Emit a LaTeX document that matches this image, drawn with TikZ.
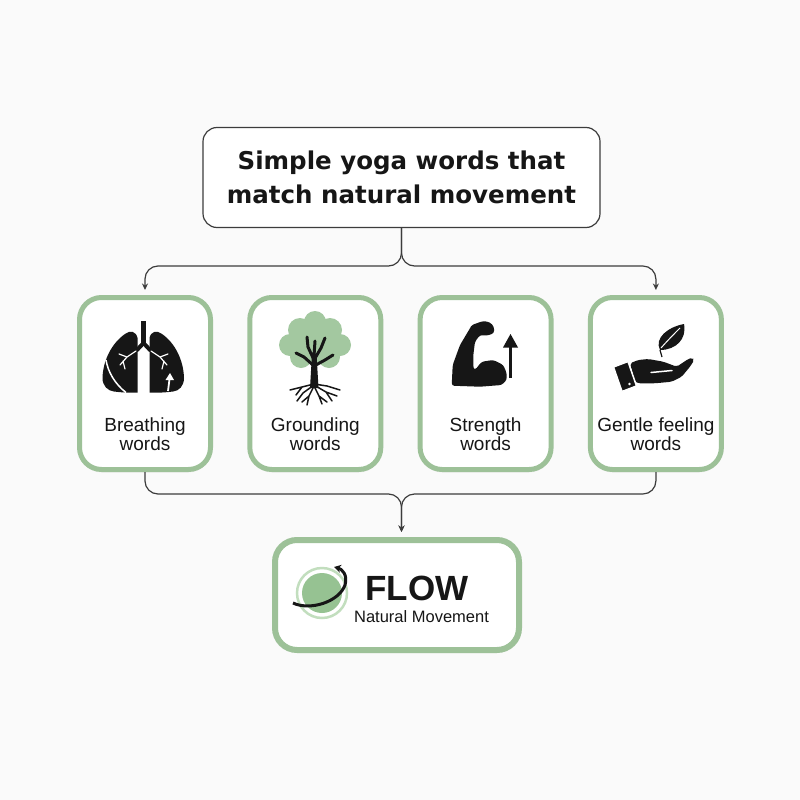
\documentclass[tikz,border=0pt]{standalone}
\usepackage{fontspec}
\setmainfont{Liberation Sans}
\newfontfamily\headfont{DejaVu Sans}
\usetikzlibrary{positioning, arrows.meta, shadows}

\definecolor{sage}{HTML}{9DC198}
\definecolor{leafgreen}{HTML}{A3C8A0}
\definecolor{discgreen}{HTML}{96C292}
\definecolor{ringgreen}{HTML}{C2DEBE}
\definecolor{ink}{HTML}{161616}
\definecolor{wire}{HTML}{3C3C3C}
\definecolor{paper}{HTML}{FAFAFA}

\begin{document}
\begin{tikzpicture}[x=1pt, y=-1pt,
    titlebox/.style = {draw=wire, line width=1.2pt, rounded corners=14pt, fill=white,
        minimum width=397pt, minimum height=100pt, align=center, text=ink,
        font=\headfont\bfseries\fontsize{24.5}{34}\selectfont},
    card/.style = {draw=sage, line width=5pt, rounded corners=22pt, fill=white,
        minimum width=131pt, minimum height=172pt,
        drop shadow={shadow xshift=0pt, shadow yshift=-3pt, opacity=.08}},
    flowbox/.style = {card, line width=6pt, minimum width=244pt, minimum height=110pt},
    lbl/.style = {align=center, inner sep=0pt, text depth=0pt, text=ink,
        font=\fontsize{19}{19.5}\selectfont},
    conn/.style = {draw=wire, line width=1.2pt, rounded corners=13pt},
    pointy/.style = {-{Stealth[length=6.5pt, width=6pt]}}]

    \fill[paper] (0,0) rectangle (800,800);
    \useasboundingbox (0,0) rectangle (800,800);

    \node[titlebox] (title) at (401.5,177.5) {Simple yoga words that\\match natural movement};

    \node[card] (breath) at (145,383.5) {};
    \node[card, right=34.3pt of breath] (ground) {};
    \node[card, right=34.3pt of ground] (strength) {};
    \node[card, right=34.3pt of strength] (gentle) {};

    \node[lbl, above=21pt of breath.south] {Breathing\\words};
    \node[lbl, above=21pt of ground.south] {Grounding\\words};
    \node[lbl, above=21pt of strength.south] {Strength\\words};
    \node[lbl, above=21pt of gentle.south] {Gentle feeling\\words};

    \node[flowbox] (flow) at (397,595) {};
    \node[anchor=base, text=ink, font=\bfseries\fontsize{35}{35}\selectfont] (flowword) at (417,600) {FLOW};
    \node[anchor=base, text=ink, font=\fontsize{16.5}{17}\selectfont] (flowsub) at (421.5,622) {Natural Movement};

    \coordinate (split) at (401.5,266);
    \coordinate (merge) at (401.5,494);
    \coordinate (drop) at (401.5,532);

    \draw[conn, pointy] (title.south) -- (split) -| ([yshift=5pt]breath.north);
    \draw[conn, pointy] (title.south) -- (split) -| ([yshift=5pt]gentle.north);
    \draw[conn, pointy] (breath.south) |- (merge) -- (drop);
    \draw[conn, pointy] (gentle.south) |- (merge) -- (drop);

    % lungs
    \fill[ink] (141,321) rectangle (146,346);
    \draw[ink, line width=4pt, line cap=round] (143.5,343) -- (137,350) (143.5,343) -- (150,350);
    \fill[ink] (137.5,338) .. controls (136,331) and (130,330) .. (125,334)
        .. controls (112,343) and (103,360) .. (102.5,378) .. controls (102.5,386) and (108,391) .. (114,391.5)
        .. controls (122,392.5) and (130,393) .. (137.5,392.5) -- cycle;
    \fill[ink] (149.5,338) .. controls (151,331) and (157,330) .. (162,334)
        .. controls (175,343) and (183.5,360) .. (184,378) .. controls (184,386) and (179,391) .. (173,391.5)
        .. controls (165,392.5) and (157,393) .. (149.5,392.5) -- cycle;
    \draw[white, line width=1.5pt] (106,360) .. controls (108,372) and (115,384) .. (126,392.5);
    \draw[white, line width=1.2pt, line cap=round] (136,351) -- (127,357) -- (120,365)
        (127,357) -- (119,354) (123,361) -- (125,369);
    \draw[white, line width=1.2pt, line cap=round] (151,351) -- (160,357) -- (167,365)
        (160,357) -- (168,354) (164,361) -- (162,369);
    \draw[white, line width=1.8pt] (168,391) -- (169.5,379);
    \fill[white] (165.5,380) -- (174,380) -- (170,373) -- cycle;

    % tree
    \fill[leafgreen] (315,322) circle[radius=11] (300,330) circle[radius=12] (330,330) circle[radius=12]
        (290,345) circle[radius=11] (340,345) circle[radius=11] (301,357) circle[radius=11]
        (329,357) circle[radius=11] (315,345) circle[radius=18];
    \fill[ink] (310,388) -- (312,354) -- (316.5,354) -- (318.5,388) -- cycle;
    \draw[ink, line width=3pt, line cap=round] (314,360) -- (308,347) -- (307,337)
        (314,360) -- (321,348) -- (325,338) (314,366) -- (304,357) -- (296,353)
        (314,366) -- (325,360) -- (333,355) (314,356) -- (315,341);
    \draw[ink, line width=1.5pt, line cap=round] (314,384) -- (302,387) -- (290,390)
        (314,385) -- (303,393) -- (297,401) (314,386) -- (309,396) -- (307,405)
        (314,386) -- (319,396) -- (322,404) (314,385) -- (326,392) -- (332,401)
        (314,384) -- (327,386) -- (340,390) (302,387) -- (296,395) (326,392) -- (337,396)
        (309,396) -- (302,402) (319,396) -- (327,402);

    % arm
    \fill[ink, rounded corners=2.5pt] (451.7,385.7) -- (452.7,365) -- (460,345) -- (470,328.3)
        -- (471.7,325) -- (483.3,321) -- (490,322.3) -- (494,326.7) -- (494,333.3) -- (486.7,335.7)
        -- (480,335) -- (475,341.7) -- (473.3,355) -- (473.3,368.3) -- (475,370) -- (481.7,361.7)
        -- (493.3,360) -- (503.3,365) -- (506.7,373.3) -- (506.7,380) -- (501.7,385) -- (480,386.7) -- cycle;
    \draw[ink, line width=3pt] (510.5,378) -- (510.5,346);
    \fill[ink] (503,347.5) -- (518,347.5) -- (510.5,334) -- cycle;

    % hand
    \fill[ink, rounded corners=2pt] (630,363.3) -- (638.3,360) -- (648.3,359) -- (663.3,361.7)
        -- (676.7,366.7) -- (688.3,359) -- (692.3,357.7) -- (694.3,360) -- (690,366.7) -- (681.7,376.7)
        -- (671.7,381.7) -- (655,383.3) -- (638.3,383.3) -- (635,381.7) -- cycle;
    \draw[white, line width=1.5pt, line cap=round] (651,372.5) -- (672,370.5);
    \filldraw[ink, draw=white, line width=1.5pt] (613.5,367) -- (628,361.5) -- (636.5,386) -- (622,391.5) -- cycle;
    \fill[white] (629.5,384) circle[radius=1.4];
    \fill[ink] (660,350) .. controls (654,338) and (668,327) .. (684,324)
        .. controls (687,339) and (676,350) .. (660,350) -- cycle;
    \draw[white, line width=1pt] (661,348) .. controls (668,340) and (675,333) .. (680,328);
    \draw[ink, line width=1.2pt] (660,350) -- (662,357);

    % flow icon
    \draw[ringgreen, line width=2.5pt] (322,593) circle[radius=25];
    \fill[discgreen] (322,593) circle[radius=20];
    \draw[ink, line width=3pt, -{Stealth[length=7pt, width=8pt]}] (293,603)
        .. controls (310,611) and (339,602) .. (345,585) .. controls (348,575) and (342,569) .. (334,567);
\end{tikzpicture}
\end{document}
